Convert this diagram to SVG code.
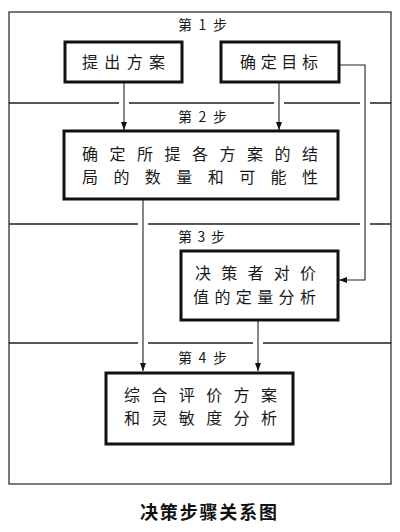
<svg xmlns="http://www.w3.org/2000/svg" width="400" height="532" viewBox="0 0 400 532">
<style>
.frame{fill:none;stroke:#222;stroke-width:1.2}
.div{stroke:#222;stroke-width:1.5;fill:none}
.box{fill:#fff;stroke:#111;stroke-width:3}
.conn{fill:none;stroke:#222;stroke-width:1.1}
.t{font-family:"Noto Sans CJK SC","Noto Sans CJK JP",sans-serif;font-size:16px;fill:#1a1a1a}
.lbl{font-family:"Noto Sans CJK SC","Noto Sans CJK JP",sans-serif;font-size:14px;fill:#1a1a1a}
.cap{font-family:"Noto Sans CJK SC","Noto Sans CJK JP",sans-serif;font-size:18px;font-weight:bold;fill:#111}
</style>
<defs>
<marker id="arr" viewBox="0 0 8 8" refX="8" refY="4" markerWidth="8" markerHeight="8" markerUnits="userSpaceOnUse" orient="auto">
<path d="M0,1 L8,4 L0,7 Z" fill="#111"/>
</marker>
</defs>
<rect width="400" height="532" fill="#fff"/>
<g id="frame">
<rect class="frame" x="9" y="12" width="382" height="472"/>
<path class="div" d="M9,103H119M129,103H274M284,103H360M370,103H391"/>
<path class="div" d="M9,224H138M148,224H360M370,224H391"/>
<path class="div" d="M9,343H138M148,343H253M263,343H391"/>
<text class="lbl" x="178" y="30" textLength="49" lengthAdjust="spacing">第1步</text>
<text class="lbl" x="178" y="122" textLength="49" lengthAdjust="spacing">第2步</text>
<text class="lbl" x="178" y="242" textLength="47" lengthAdjust="spacing">第3步</text>
<text class="lbl" x="178" y="363" textLength="49" lengthAdjust="spacing">第4步</text>
</g>
<g id="connectors">
<path class="conn" d="M124,82V130" marker-end="url(#arr)"/>
<path class="conn" d="M279,82V130" marker-end="url(#arr)"/>
<path class="conn" d="M339,65H365V280H339" marker-end="url(#arr)"/>
<path class="conn" d="M143,199V371" marker-end="url(#arr)"/>
<path class="conn" d="M258,320V371" marker-end="url(#arr)"/>
</g>
<g id="n1">
<rect class="box" x="65" y="42" width="117" height="40"/>
<text class="t" x="82" y="68" textLength="83" lengthAdjust="spacing">提出方案</text>
</g>
<g id="n2">
<rect class="box" x="221" y="42" width="118" height="40"/>
<text class="t" x="240" y="68" textLength="78" lengthAdjust="spacing">确定目标</text>
</g>
<g id="n3">
<rect class="box" x="64" y="131" width="274" height="68"/>
<text class="t" x="82" y="160" textLength="236" lengthAdjust="spacing">确定所提各方案的结</text>
<text class="t" x="82" y="183" textLength="236" lengthAdjust="spacing">局的数量和可能性</text>
</g>
<g id="n4">
<rect class="box" x="181" y="251" width="157" height="69"/>
<text class="t" x="195" y="279" textLength="121" lengthAdjust="spacing">决策者对价</text>
<text class="t" x="193" y="303" textLength="123" lengthAdjust="spacing">值的定量分析</text>
</g>
<g id="n5">
<rect class="box" x="106" y="373" width="187" height="71"/>
<text class="t" x="124" y="401" textLength="153" lengthAdjust="spacing">综合评价方案</text>
<text class="t" x="124" y="424" textLength="153" lengthAdjust="spacing">和灵敏度分析</text>
</g>
<g id="caption">
<text class="cap" x="140" y="519" textLength="137" lengthAdjust="spacing">决策步骤关系图</text>
</g>
</svg>
